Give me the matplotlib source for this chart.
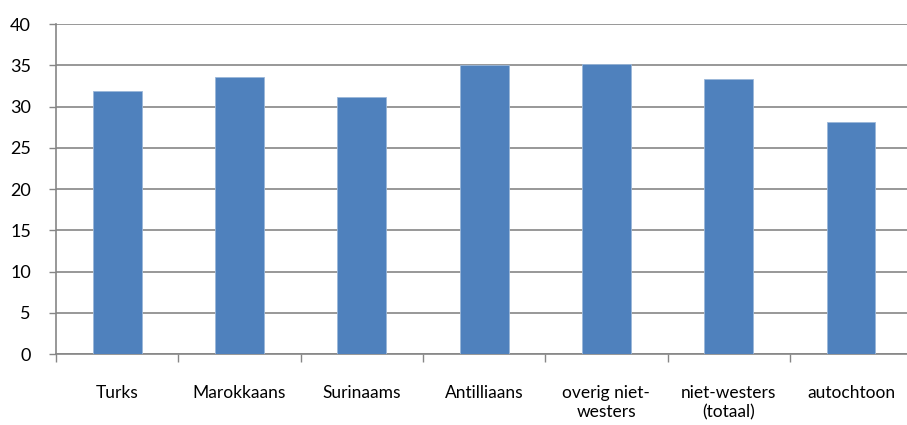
import matplotlib.pyplot as plt
import numpy as np

# Gegevens
categories = ['Turks', 'Marokkaans', 'Surinaams', 'Antilliaans',
              'overig niet-\nwesters', 'niet-westers\n(totaal)', 'autochtoon']
values = [31.9, 33.6, 31.1, 35.0, 35.2, 33.3, 28.1]
y_ticks = [0, 5, 10, 15, 20, 25, 30, 35, 40]

plt.rcParams['font.family'] = ['Lato', 'DejaVu Sans']

fig = plt.figure(figsize=(9.07, 4.25), dpi=100)
ax = fig.add_axes([0.0617, 0.167, 0.944, 0.7765])

x = np.arange(len(categories))
ax.bar(x, values, width=0.4, color='#4F81BD', edgecolor='#9BB7D9', linewidth=0.6, zorder=3)

ax.set_xlim(-0.5, len(categories) - 0.5)
ax.set_ylim(0, 40)
ax.set_yticks(y_ticks)
ax.set_yticklabels([str(t) for t in y_ticks], fontsize=13)
ax.yaxis.grid(True, color='#868686', linewidth=1.2, zorder=0)

# Tekst onder de balken
ax.set_xticks(x)
ax.set_xticklabels(categories, fontsize=12.5, linespacing=1.3, va='top')
ax.tick_params(axis='x', length=0, pad=22)
ax.set_xticks(np.arange(len(categories) + 1) - 0.5, minor=True)
ax.tick_params(axis='x', which='minor', length=6, color='#868686', width=1)
ax.tick_params(axis='y', length=5, color='#868686', width=1, pad=13)

for side in ['top', 'right']:
    ax.spines[side].set_visible(False)
for side in ['left', 'bottom']:
    ax.spines[side].set_color('#868686')
    ax.spines[side].set_linewidth(1.2)

fig.savefig('out.png', dpi=100)
